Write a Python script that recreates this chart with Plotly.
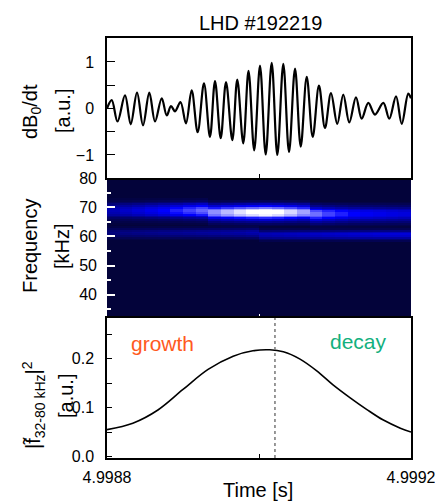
import plotly.graph_objects as go
from plotly.subplots import make_subplots

# --- time axis (offsets in microseconds from 4.9988 s) ---
T0 = 4.9988

# dB0/dt: extrema of the oscillation
sig_us = [0, 6.2, 13.8, 23.7, 31.2, 39.5, 47.4, 55.7, 63.2, 72.0, 78.6, 84.2, 89.5,
          96.7, 103.9, 111.4, 119.3, 127.6, 135.5, 142.1, 149.6, 156.6, 164.9, 171.4,
          179.3, 186.2, 193.7, 201.3, 208.8, 216.7, 224.1, 232.0, 239.5, 247.4, 254.9,
          262.8, 270.7, 278.9, 286.8, 294.7, 303.0, 310.9, 318.8, 327.6, 335.1, 343.8,
          352.6, 363.6, 371.4, 380.3, 387.8, 396.4, 400]
sig_val = [0.0, 0.18, -0.28, 0.28, -0.34, 0.34, -0.36, 0.34, -0.28, 0.22, -0.15, 0.05, -0.06,
           0.14, -0.32, 0.39, -0.51, 0.54, -0.61, 0.59, -0.64, 0.57, -0.68, 0.62,
           -0.75, 0.81, -0.90, 0.92, -0.99, 0.98, -1.0, 0.96, -0.94, 0.86, -0.82,
           0.68, -0.61, 0.49, -0.42, 0.33, -0.33, 0.30, -0.30, 0.24, -0.22, 0.12,
           -0.13, 0.12, -0.22, 0.26, -0.33, 0.32, 0.22]

# spectrogram: 24 time bins x 0.6 kHz frequency bins
spec_us = [8.3 + 16.67 * i for i in range(24)]
freq_khz = [round(55.4 + 0.6 * k, 1) for k in range(33)]
main_amp = [0.32, 0.36, 0.40, 0.45, 0.50, 0.56, 0.63, 0.70, 0.78, 0.86, 0.94, 1.00,
            1.05, 1.00, 0.92, 0.82, 0.72, 0.63, 0.56, 0.50, 0.47, 0.45, 0.43, 0.41]
main_row = [22] * 8 + [21] * 8 + [20] * 8
low_amp = [0.18, 0.19, 0.20, 0.21, 0.22, 0.23, 0.24, 0.25, 0.26, 0.27, 0.28, 0.30,
           0.31, 0.32, 0.33, 0.34, 0.35, 0.36, 0.37, 0.38, 0.39, 0.40, 0.40, 0.40]
low_row = [10] * 12 + [9] * 12
main_profile = {-7: 0.04, -6: 0.1, -5: 0.2, -4: 0.35, -3: 0.55, -2: 0.78, -1: 0.93,
                0: 1.0, 1: 1.0, 2: 0.9, 3: 0.7, 4: 0.48, 5: 0.28, 6: 0.14, 7: 0.06}
low_profile = {-4: 0.15, -3: 0.35, -2: 0.65, -1: 0.9, 0: 1.0, 1: 0.8, 2: 0.45, 3: 0.15}

# |f~|^2 (32-80 kHz) envelope
env_us = [0, 34, 67, 100, 133, 166, 192, 214, 232, 254, 276, 297, 320, 342, 363, 386, 400]
env_val = [0.055, 0.068, 0.095, 0.137, 0.178, 0.205, 0.216, 0.218, 0.214, 0.199, 0.175,
           0.147, 0.120, 0.096, 0.075, 0.058, 0.050]

peak_us = 221

# build spectrogram table
z = []
for r in range(len(freq_khz)):
    row = []
    for c in range(len(spec_us)):
        v = main_amp[c] * main_profile.get(r - main_row[c], 0) \
            + low_amp[c] * low_profile.get(r - low_row[c], 0)
        row.append(min(v, 1.0))
    z.append(row)

to_t = lambda us: [T0 + u * 1e-6 for u in us]

FONT = "Arial, Liberation Sans, sans-serif"
NAVY = "#03033a"

fig = make_subplots(rows=3, cols=1, shared_xaxes=True, vertical_spacing=0)

fig.add_trace(go.Scatter(x=to_t(sig_us), y=sig_val, mode="lines", line_shape="spline",
                         line=dict(color="black", width=2.2), showlegend=False), row=1, col=1)

fig.add_trace(go.Heatmap(x=to_t(spec_us), y=freq_khz, z=z, zmin=0, zmax=1, zsmooth=False,
                         colorscale=[[0, NAVY], [0.5, "#0000ff"], [1, "#ffffff"]],
                         showscale=False), row=2, col=1)

fig.add_trace(go.Scatter(x=to_t(env_us), y=env_val, mode="lines", line_shape="spline",
                         line=dict(color="black", width=1.6), showlegend=False), row=3, col=1)

fig.add_trace(go.Scatter(x=to_t([peak_us, peak_us]), y=[-0.003, 0.283], mode="lines",
                         line=dict(color="#777777", width=1.5, dash="dot"),
                         showlegend=False), row=3, col=1)

mid_tick = dict(tickvals=[4.9990], ticks="inside", ticklen=4)
fig.update_xaxes(range=[4.9988, 4.9992], tickvals=[4.9988, 4.9992], ticks="inside",
                 ticklen=4, showgrid=False, zeroline=False)
fig.update_xaxes(showticklabels=False, showline=True, linecolor="black",
                 linewidth=1.5, mirror=True, tickcolor="black",
                 minor=dict(**mid_tick, tickcolor="black"), row=1, col=1)
fig.update_xaxes(showticklabels=False, showline=False, tickcolor="white",
                 minor=dict(**mid_tick, tickcolor="white"), row=2, col=1)
fig.update_xaxes(showticklabels=True, tickformat=".4f",
                 showline=True, linecolor="black", linewidth=1.5, mirror=True,
                 tickcolor="black", ticklabelstandoff=4,
                 minor=dict(**mid_tick, tickcolor="black"), row=3, col=1)

fig.update_yaxes(range=[-1.495, 1.516], tickvals=[-1, 0, 1],
                 ticktext=["\u22121", "0", "1"], ticks="inside", ticklen=8,
                 tickcolor="black", showline=True, linecolor="black", linewidth=1.5,
                 mirror=True, ticklabelstandoff=8, showgrid=False, zeroline=False,
                 minor=dict(tickvals=[-0.5, 0.5], ticks="inside", ticklen=8,
                            tickcolor="black"),
                 row=1, col=1)
fig.update_yaxes(range=[32, 80], tickvals=[40, 50, 60, 70, 80], ticks="inside", ticklen=8,
                 tickcolor="white", tickwidth=1.5, showline=False, ticklabelstandoff=9,
                 minor=dict(tickvals=[35, 45, 55, 65, 75], ticks="inside", ticklen=4,
                            tickcolor="white", tickwidth=1.5),
                 showgrid=False, zeroline=False, row=2, col=1)
fig.update_yaxes(range=[-0.003, 0.283], tickvals=[0, 0.1, 0.2],
                 ticktext=["0.0", "0.1", "0.2"], ticks="inside", ticklen=5,
                 tickcolor="black", showline=True, linecolor="black", linewidth=1.5,
                 mirror=True, ticklabelstandoff=8,
                 minor=dict(tickvals=[0.05, 0.15, 0.25], ticks="inside", ticklen=5,
                            tickcolor="black"),
                 showgrid=False, zeroline=False, row=3, col=1)

# plot area on the page: x 107..411 px, y 38..458 px
px = lambda v: (v - 107) / 304
py = lambda v: (458 - v) / 420

notes = [
    ("LHD #192219", 260, 23, 0, 20, "black"),
    ("dB<sub>0</sub>/dt", 31, 112, -90, 20, "black"),
    ("[a.u.]", 63, 111, -90, 20, "black"),
    ("Frequency", 30, 246, -90, 20, "black"),
    ("[kHz]", 62, 246, -90, 20, "black"),
    ("|f\u0303<sub>32-80 kHz</sub>|<sup>2</sup>", 33, 405, -90, 20, "black"),
    ("[a.u.]", 66, 396, -90, 20, "black"),
    ("Time [s]", 258, 490, 0, 20, "black"),
    ("growth", 162, 343, 0, 21, "#ff5a1e"),
    ("decay", 358, 341, 0, 21, "#12b07e"),
]
for text, x, y, ang, size, col in notes:
    fig.add_annotation(text=text, x=px(x), y=py(y), xref="paper", yref="paper",
                       xanchor="center", yanchor="middle", showarrow=False,
                       textangle=ang, font=dict(family=FONT, size=size, color=col))

# page has an 8px body margin, so the plot area sits 8px in from the figure edges
fig.update_layout(width=443, height=502, margin=dict(l=99, r=40, t=30, b=52),
                  paper_bgcolor="white", plot_bgcolor="white",
                  font=dict(family=FONT, size=16, color="black"))
# navy background behind the spectrogram
fig.add_shape(type="rect", xref="x2 domain", yref="y2 domain", x0=0, x1=1, y0=0, y1=1,
              fillcolor=NAVY, line_width=0, layer="below")

fig.write_html("out.html")
